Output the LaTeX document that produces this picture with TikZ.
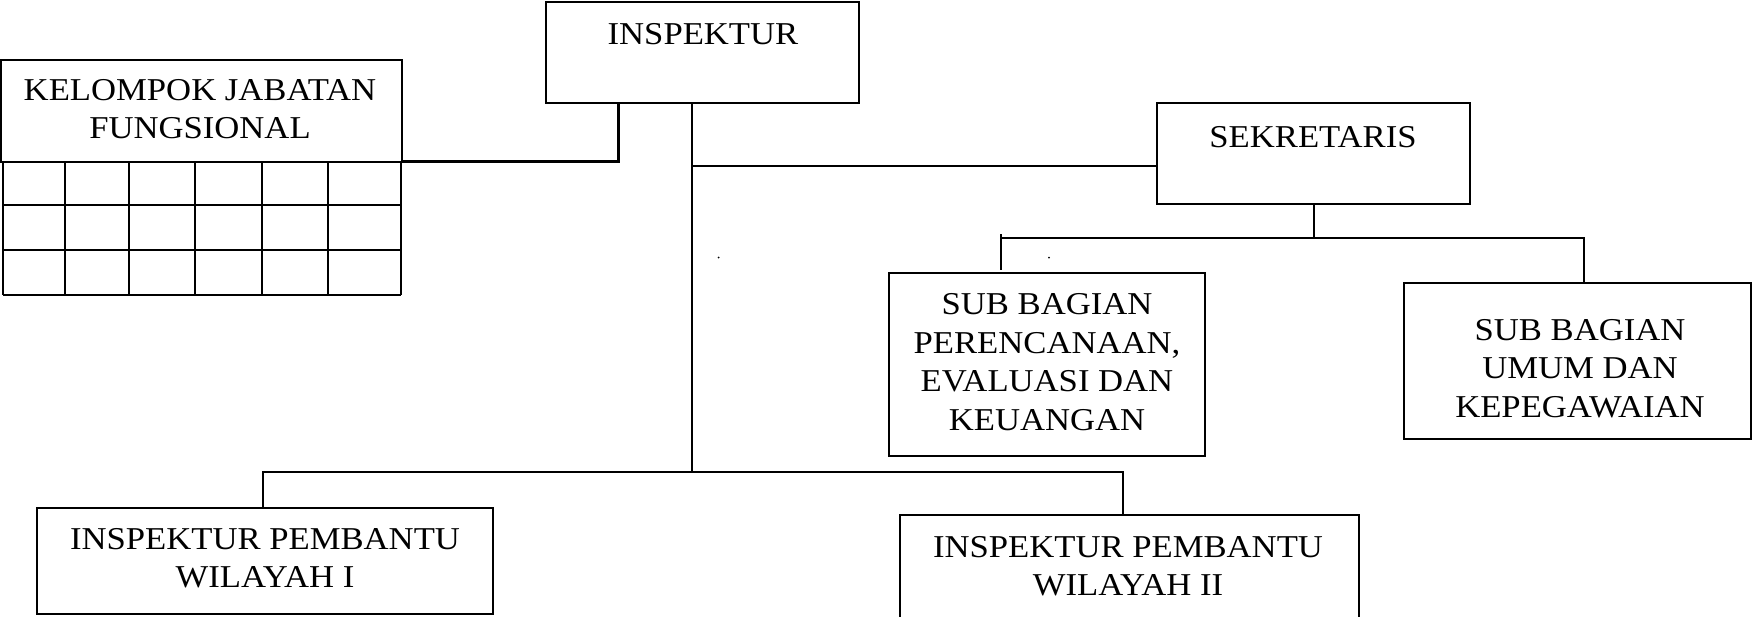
\documentclass[tikz,border=0pt]{standalone}
\usepackage{fontspec}
\setmainfont[FakeStretch=1.09]{Liberation Serif}
\usetikzlibrary{fit}
\begin{document}
\begin{tikzpicture}[x=0.5pt,y=-0.5pt,
  box/.style={draw, line width=1pt, inner sep=0pt, outer sep=0pt},
  lbl/.style={anchor=north, inner sep=0pt, align=center, font=\fontsize{15.9}{19.25}\selectfont},
  conn/.style={line width=1pt},
  heavyconn/.style={line width=1.5pt},
  gridline/.style={line width=1pt}]
\useasboundingbox (0,0) rectangle (1755,616);
% boxes
\node[box, fit={(546,1.5) (859,102.5)}] (insp) {};
\node[box, fit={(1,60) (402,161.7)}] (kjf) {};
\node[box, fit={(1156.5,102.7) (1470,203.7)}] (sek) {};
\node[box, fit={(888.7,272.7) (1205,456.3)}] (sbp) {};
\node[box, fit={(1404,283) (1751,439)}] (sbu) {};
\node[box, fit={(36.7,508) (493,613.7)}] (ipa) {};
\node[box, fit={(899.6,515) (1359,640)}] (ipb) {};
% grid under KJF
\foreach \y in {161.7,204.7,249.7,294.7} \draw[gridline] (3,\y) -- (401,\y);
\foreach \x in {3,65,128.6,194.6,262.3,327.8,401} \draw[gridline] (\x,161.7) -- (\x,294.7);
% labels
\node[lbl] (tinsp) at (703,23) {INSPEKTUR};
\node[lbl] (tkjf) at (200,79) {KELOMPOK JABATAN\\FUNGSIONAL};
\node[lbl] (tsek) at (1313,125.7) {SEKRETARIS};
\node[lbl] (tsbp) at (1047,293.3) {SUB BAGIAN\\PERENCANAAN,\\EVALUASI DAN\\KEUANGAN};
\node[lbl] (tsbu) at (1580,319) {SUB BAGIAN\\UMUM DAN\\KEPEGAWAIAN};
\node[lbl] (tipa) at (265,528) {INSPEKTUR PEMBANTU\\WILAYAH I};
\node[lbl] (tipb) at (1128,535.7) {INSPEKTUR PEMBANTU\\WILAYAH II};
% connector coordinates
\coordinate (jk) at (618.3,102.5);
\coordinate (m0) at (692,102.5);
\coordinate (m1) at (692,471.7);
\coordinate (ms) at (692,165.7);
\coordinate (b1) at (263,471.7);
\coordinate (b2) at (1123,471.7);
\coordinate (s1) at (1314,238.3);
\coordinate (sl) at (1000.6,238.3);
\coordinate (slt) at (1000.6,234.3);
\coordinate (slb) at (1000.6,270);
\coordinate (sr) at (1583.6,238.3);
% connectors
\draw[heavyconn] (kjf.south east) -| (jk);
\draw[conn] (m0) -- (m1);
\draw[conn] (ms) -- (ms -| sek.west);
\draw[conn] (b1 |- ipa.north) -- (b1) -- (b2) -- (b2 |- ipb.north);
\draw[conn] (s1 |- sek.south) -- (s1);
\draw[conn] (sl) -- (sr) -- (sr |- sbu.north);
\draw[conn] (slt) -- (slb);
% stray dots
\fill (718.6,257.5) circle (1);
\fill (1049,257.7) circle (1);
\end{tikzpicture}
\end{document}
